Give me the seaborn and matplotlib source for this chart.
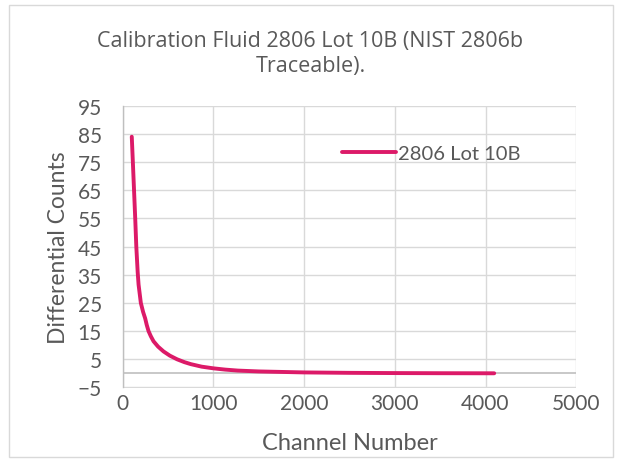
import matplotlib
matplotlib.use("Agg")
import matplotlib.pyplot as plt
import seaborn as sns
import pandas as pd
from matplotlib.patches import Rectangle

channels = [100, 112, 125, 138, 150, 165, 175, 200, 225, 248, 265, 285, 310, 340,
            390, 450, 520, 600, 680, 750, 870, 1000, 1130, 1270, 1500, 2000, 2500,
            3000, 3500, 4096]
counts = [84.0, 75.0, 65.0, 55.0, 45.0, 36.0, 31.5, 25.0, 21.8, 19.5, 17.2, 15.0, 13.2, 11.4,
          9.5, 7.8, 6.3, 5.0, 4.0, 3.3, 2.4, 1.8, 1.35, 1.0, 0.7, 0.35, 0.2,
          0.12, 0.07, 0.04]
series_name = "2806 Lot 10B"
title = "Calibration Fluid 2806 Lot 10B (NIST 2806b\nTraceable)."
x_ticks = [0, 1000, 2000, 3000, 4000, 5000]
y_ticks = [-5, 5, 15, 25, 35, 45, 55, 65, 75, 85, 95]

df = pd.DataFrame({"Channel Number": channels, "Differential Counts": counts,
                   "series": series_name})

sns.set_style("white")
plt.rcParams["font.family"] = ["Lato", "DejaVu Sans"]

txt = "#595959"
grid = "#D9D9D9"
line_col = "#DC1A68"

fig = plt.figure(figsize=(6.21, 4.64), dpi=100)
ax = fig.add_axes([122.7 / 621, 1 - 388.5 / 464, (576.2 - 122.7) / 621, (388.5 - 106.7) / 464])

fig.patches.append(Rectangle((9 / 621, 6 / 464), 604 / 621, 452 / 464,
                             transform=fig.transFigure, fill=False,
                             edgecolor="#D9D9D9", linewidth=1.0))

ax.axhline(0, color="#BFBFBF", linewidth=1.2, zorder=1)
sns.lineplot(data=df, x="Channel Number", y="Differential Counts", hue="series",
             palette=[line_col], linewidth=2.8, ax=ax, zorder=3)

ax.set_xlim(0, 5000)
ax.set_ylim(-5, 95)
ax.set_xticks(x_ticks)
ax.set_yticks(y_ticks)
ax.grid(True, color=grid, linewidth=1.0)
ax.set_axisbelow(True)
for s in ["top", "right", "bottom"]:
    ax.spines[s].set_visible(False)
ax.spines["left"].set_color("#BFBFBF")
ax.spines["left"].set_linewidth(1.0)
ax.tick_params(axis="y", length=6, color="#BFBFBF", labelsize=15, labelcolor=txt, pad=9)
ax.tick_params(axis="x", length=0, labelsize=15, labelcolor=txt, pad=4)

ax.set_xlabel("Channel Number", fontsize=17, color=txt, labelpad=14)
ax.set_ylabel("Differential Counts", fontsize=16.5, color=txt, labelpad=6)

fig.text(0.5, 1 - 54 / 464, title, ha="center", va="center", fontsize=15.5,
         color=txt, family=["Open Sans", "DejaVu Sans"], linespacing=1.25)

leg = ax.legend(loc="center left", bbox_to_anchor=(0.465, 0.83), frameon=False,
                fontsize=14.5, handlelength=2.7, handletextpad=0.1, borderaxespad=0)
for t in leg.get_texts():
    t.set_color(txt)

fig.savefig("out.png", dpi=100, facecolor="white")
